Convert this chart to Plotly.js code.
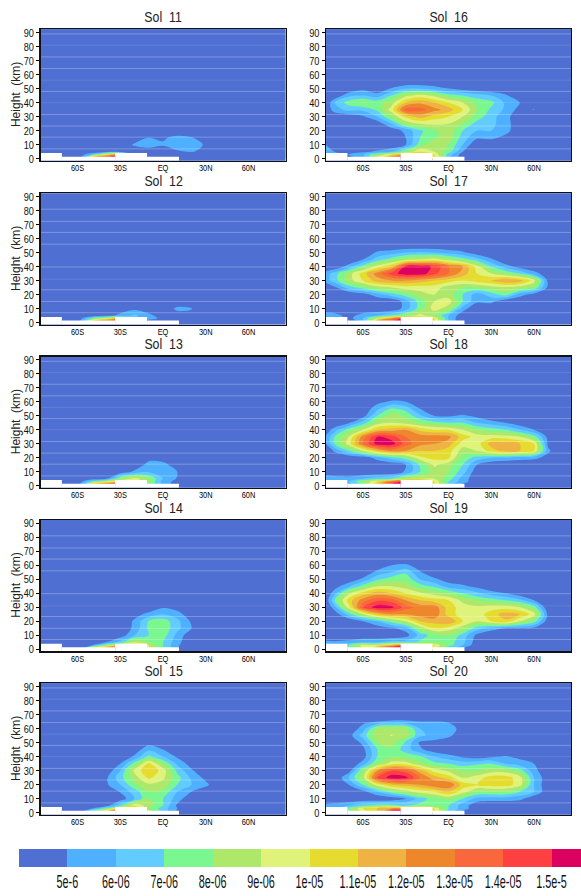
<!DOCTYPE html>
<html><head><meta charset="utf-8">
<script src="https://cdn.plot.ly/plotly-3.0.1.min.js"></script>
<style>html,body{margin:0;padding:0;background:#fff}#c{width:581px;height:896px}</style>
</head><body><div id="c"></div><script>
// Grid (lon, km). Values are in units of 1e-6; rows run bottom to top, missing cells are background.
const lons=[-86,-80,-70,-60,-50,-40,-30,-20,-10,0,10,20,30,40,50,60,70,80,86];
const heights=[0,3,5,10,15,20,25,30,35,40,45,50,55,60,65,70,92.5];
const background=4;
const colorEdges=[4,5,6,7,8,9,10,11,12,13,14,15,16];
const bandColors=['#4f6fd2','#4fb0ff','#62ccff','#7bf78f','#ade86a','#dff27a','#e6dc30','#eeb343','#ee862b','#fb673c','#ff4040','#dc0060'];
const colorTickVals=[5,6,7,8,9,10,11,12,13,14,15];
const colorTickText=['5e-6','6e-06','7e-06','8e-06','9e-06','1e-05','1.1e-05','1.2e-05','1.3e-05','1.4e-05','1.5e-5'];
const lonTickVals=[-60,-30,0,30,60];
const lonTickText=['60S','30S','EQ','30N','60N'];
const heightTicks=[0,10,20,30,40,50,60,70,80,90];
const terrainEdges=[-86,-71,-33.6,-11.2,11.2];
const terrainTop=[4,1.4,4,1.4];
const levelsStrongA=[89,72.6,64.3,48,31.6,23.3,15.4,7];
const levelsFaintA=[81,56,40];
const levelsStrongB=[81,72.3,64.4,56,39.7,23.4,15,7];
const levelsFaintB=[31];

const sol11=[
[4,4,4,4,14,17,18],
[4,4,4,4,6,10,11],
[4,4,4,4,4,4.5,4.5,4,4,4,4.8,5.1,4.6],
[4,4,4,4,4,4,4,5.2,5.8,5.2,5.8,5.8,4.8],
[4,4,4,4,4,4,4,4.2,5,4.8,5.4,5.1,4.3]];
const sol12=[
[4,4,4,4,13,16,18],
[4,4,4,4,7,9,10,6,5.5,4.7],
[4,4,4,4,4,4.4,5.5,6.2,5.4,4.2,4.4,4.7],
[4,4,4,4,4,4,4,4.7,4,4,5.3,5.05]];
const sol13=[
[4,4,4,4,13,16,18,12,8,6],
[4,4,4,4,7,9,10,9.8,8,5.6,4.6],
[4,4,4,4,4.2,4.8,8,9.5,8,6,4.9],
[4,4,4,4,4,4,4.2,5.2,5.8,6,5],
[4,4,4,4,4,4,4,4.2,5.4,5.3,4.5],
[4,4,4,4,4,4,4,4,4.6,4.5]];
const sol14=[
[4,4,4,5,11,15,18,12,9,7,5],
[4,4,4,4,4.8,8,10,10,9,7,5.2],
[4,4,4,4,4,5,6.5,9,8,7,5.4],
[4,4,4,4,4,4,4.3,6,7,7.5,5.7,4.2],
[4,4,4,4,4,4,4,5.3,7.2,7.7,6.3,5],
[4,4,4,4,4,4,4,5.2,7.1,7.6,6.3,4.8],
[4,4,4,4,4,4,4,4.6,5.3,6,5.5,4.2],
[4,4,4,4,4,4,4,4,4.2,4.9,4.5]];
const sol15=[
[4,4,4,4.5,9,13,18,14,10,7,4.5],
[5.2,4,4,4,5,7.5,11,11,8,6.5,5],
[5.2,4,4,4,4,4.5,7,10,8.5,7,4.8],
[4,4,4,4,4,4,4.3,6,8,7,5.5,4.2],
[4,4,4,4,4,4,5.1,6.5,8,7.8,6,5,4.2],
[4,4,4,4,4,4.8,6,7.8,8.8,8.6,7,6,5.3],
[4,4,4,4,4,4.8,6.6,8.5,10.2,9.2,7.4,5.8,4.7],
[4,4,4,4,4,4.2,6,9.3,10.8,9.6,6.7,5.2],
[4,4,4,4,4,4,5,7.4,10.3,8,5.8,4.5],
[4,4,4,4,4,4,4,5.2,7.2,6,4.8],
[4,4,4,4,4,4,4,4.3,5.8,5],
[4,4,4,4,4,4,4,4,4.5]];
const sol16=[
[4,4,4,5.5,10,14,18,14,11,6,4.5],
[6,5.5,5,5.8,8,10,12,12,10,6.5,4.5],
[5.5,5,4.5,4.8,5.2,6,8,10,9,7.5,5],
[5,4.2,4,4,4,4,5,7.5,8.8,8,6],
[4,4,4,4,4,4,5,7,7.8,8.6,6.5,5.2,5.3,4.6],
[4,4,4,4,4,4.3,5.3,6.8,7.8,8.6,7,6,6,5.5],
[4,4,4,4,4.3,6,8.2,9,9.2,9,8,6.6,6.2,5.6],
[4,4,4.3,4.8,6,8,10.3,11.5,10.5,10,9,7.6,6.3,5.5],
[4,5.6,6.3,6.3,7.2,9.5,13.6,13.4,12.4,11.5,10,8,6.8,5.8,4.6,5.05],
[4,6,7.5,8.2,7.6,8.5,11,11.8,11,10,9,7.7,7.3,5.8,5],
[4,4,5.8,6,5.5,7,8.7,9.5,8.8,7.5,7,6.5,6,5.2],
[4,4,4,4.7,4.2,5.1,5.9,5.9,5.5,5,4.5,4.2]];
const sol17=[
[5.5,5,4,5,14,16,16,12,10,6],
[6,5.6,4.6,6,9,12,15,11,10,6],
[5.8,5.5,4.5,5.5,6,7,8,9.5,8,6,4.3],
[4,4,4,4,4,4,5.5,7.5,9.5,8.5,5.5],
[4,4,4,4,4,4,5.5,7.5,9,9.5,7,5.2,5.3],
[4,4,4,4.5,5.6,6.5,7.5,8.5,9,8.5,7,5.5,6.5,7.5,5.5,4.5],
[4,4.8,6.5,7.5,8.5,9,9.5,9.5,9.5,8.5,8,8,8.5,8.8,8.5,7.8,4.7],
[5.5,6.5,8.5,10,11.5,12,12,11.5,11,10.5,10,10.5,11,12,11.5,9.5,4.6],
[5.5,6.5,8.5,10.5,12.5,14.5,15.6,15.6,14.3,13,11.5,10,9,8,7,5.5,4.2],
[4,4,5.5,7.5,9.5,11,15.3,15.6,14.8,13,12,9.5,7,5.5,4.5],
[4,4,4,5,6.5,7.5,8.5,9,9.5,8.5,7.5,6.5,5.2],
[4,4,4,4,5.2,5.5,6,6.2,6,5.6,5.2,4.3]];
const sol18=[
[5,5,5.5,7,12,16,18,13,10,6,4.5],
[6,6,6,8,10,13,15,14,10,7,5.5,4.2],
[6,5.6,5.5,6,6.5,7,8.5,9,9,7.5,5.5,4.3],
[4,4,4,4,4,4,5.2,7,8.6,8,6.5,4.3],
[4,4,4,4,4,4.3,5,7.2,9.2,8.4,7,5,4.2],
[4,4,4,4.2,5.5,6.5,7.5,9.8,10.3,10.2,7.6,6.6,6,5.8,5.5,5.3,4.6],
[4,5.2,7,9,11,12.5,12,11,11,10.5,8.5,9,10.5,11.5,11,10,5.2,4],
[5,7,9.5,13,15.5,15.5,13.5,12.3,12,11.5,9.5,9.5,11.5,11.5,11,10,4.7,4],
[5.2,7,9,12.5,15,14.5,13,12.5,12.6,12.3,10.5,9.6,9.5,9.5,9,7.5,4.6],
[4.3,5.5,7.5,9,11,11.5,12,10.7,10,10,9,8,7.5,7,6,5],
[4,4,4.8,6.5,8.5,9,8.5,8,7.5,7,7,6,5.5,5,4.3],
[4,4,4,4.5,7,8.5,7.8,6.2,5,4.8,5.2,4.7],
[4,4,4,4,5.8,7.2,6.6,5,4],
[4,4,4,4,4.6,5.2,5,4.2]];
const sol19=[
[4.5,5,7,9,14,18,18,13,9,6,4.5],
[5.5,5.5,7,9.5,9,11,13,11,10,7.5,6,4.3],
[5.3,5.2,5.4,6,6,6.5,6.5,7.2,8,7.5,6.3,4.4],
[4,4,4,4,4,4,4.5,6.4,7.5,8,6.6,4.7],
[4,4,4,4,4.3,4.8,5.5,8.3,10,9.5,8.5,6.5,5.5,4.9,4.9,4.7],
[4,4,4,5,6,7.5,9,11,11.5,12,10,9,10,10.8,9,7.5,4.3],
[4,4.3,6.5,8.8,11,12,12,12.5,12.8,10.5,9.5,9.5,10.5,11.5,11,9.5,4.6],
[4,5.5,9.5,14,15.6,15.3,13.5,12.6,12.6,10.5,9.5,9.2,9.5,9.5,9,7.5,4],
[4.3,7,10.5,12.5,13.8,13.5,12,11,10.5,10,8.7,8,7.5,7,6.3,5],
[4,5.6,8.8,10.5,11.5,11,10,9.2,8.5,8,7,6.2,5.5,5,4.3],
[4,4.5,5.8,7.5,9,9,8.5,7.5,6.8,5.5,5.2,4.7],
[4,4,4.2,5.3,6.8,7.6,7.7,6,5.2,4.5,4.3],
[4,4,4,4,5.4,6,6.8,5.1,4.2],
[4,4,4,4,4,5,5.2,4.5]];
const sol20=[
[4.5,4.5,7,9,11,18,18,13,10,6,4.4],
[5.5,5.5,7.5,10,11,12,12,13,10,7,5.5,4.3],
[5.3,5.5,6,7,7.5,7.5,7,7.3,7.6,7,5.5,4.3],
[4,4,4,4,4,4.2,5,6.5,7.5,8.2,7,5.6,5.5,5.5,5.3,4.2],
[4,4,4,4.6,6,7.5,8.5,9.5,10,11,9.5,8,8,8,7,6,4.2],
[4,4,5,7,9.5,11,11.5,12,12.8,13,10.5,10,10.5,10.5,9.5,6,4.1],
[4,4,6,8.5,14,15.6,15.3,13,11.5,10.5,9,9.5,10.5,10.5,9.5,6,4.2],
[4,4,4.5,8,12,14,13.5,11.5,9.6,8.8,8,8,8.5,8.5,7.5,5.4],
[4,4,4,5.5,8,9.5,9.5,8.3,7.3,7,6.5,6.8,7,6,5.5,5],
[4,4,4,4.5,7,7.8,7.6,7.2,6,5.4,4.8,4.4,4.8,5.1,4.7],
[4,4,4,4.7,7,7.8,6.5,5.2,4.4],
[4,4,4,5.3,8,8.4,6.8,4.8,4.6,4.4],
[4,4,4.5,6.5,8.6,9.05,8.5,6.2,5.7,5.2,4.4],
[4,4,4,5.5,8.2,8.7,8.2,6,5.8,5.5,4.6],
[4,4,4,4.7,5,5.2,5.2,5,5,4.9,4.3]];

const panels=[
 {name:'Sol\u00a0\u00a011',rows:sol11,col:0,row:0,levels:'A'},
 {name:'Sol\u00a0\u00a012',rows:sol12,col:0,row:1,levels:'B'},
 {name:'Sol\u00a0\u00a013',rows:sol13,col:0,row:2,levels:'A'},
 {name:'Sol\u00a0\u00a014',rows:sol14,col:0,row:3,levels:'B'},
 {name:'Sol\u00a0\u00a015',rows:sol15,col:0,row:4,levels:'A'},
 {name:'Sol\u00a0\u00a016',rows:sol16,col:1,row:0,levels:'A'},
 {name:'Sol\u00a0\u00a017',rows:sol17,col:1,row:1,levels:'B'},
 {name:'Sol\u00a0\u00a018',rows:sol18,col:1,row:2,levels:'A'},
 {name:'Sol\u00a0\u00a019',rows:sol19,col:1,row:3,levels:'B'},
 {name:'Sol\u00a0\u00a020',rows:sol20,col:1,row:4,levels:'A'}];

const W=581,H=896;
const colX=[[40.5,285.5],[326,571]];
const rowY=[[29.3,160.8],[193.4,324.6],[356.7,487.8],[520,651.4],[683.3,814.8]];
const scale=[];
bandColors.forEach((c,i)=>{scale.push([i/12,c]);scale.push([(i+1)/12,c]);});
const sans='"Liberation Sans",sans-serif';
const layout={width:W,height:H,margin:{l:0,r:0,t:0,b:0},paper_bgcolor:'#fff',plot_bgcolor:bandColors[0],
  showlegend:false,barmode:'overlay',annotations:[]};
const traces=[];
function hLines(levels,color,xa,ya){
  const xs=[],ys=[];
  levels.forEach(v=>{xs.push(-86,86,null);ys.push(v,v,null);});
  return {type:'scatter',mode:'lines',x:xs,y:ys,xaxis:xa,yaxis:ya,line:{color:color,width:1},hoverinfo:'skip'};
}
panels.forEach((p,i)=>{
  const n=i+1,xa='x'+(n===1?'':n),ya='y'+(n===1?'':n);
  const z=heights.map((h,r)=>lons.map((l,c)=>{const row=p.rows[r];return row&&row[c]!==undefined?row[c]:background;}));
  traces.push({type:'contour',x:lons,y:heights,z:z,xaxis:xa,yaxis:ya,zmin:4,zmax:16,colorscale:scale,showscale:false,
    autocontour:false,contours:{start:5,end:15,size:1,coloring:'fill',showlines:false},line:{width:0,smoothing:1},hoverinfo:'skip'});
  traces.push({type:'bar',x:terrainTop.map((t,k)=>(terrainEdges[k]+terrainEdges[k+1])/2),
    width:terrainTop.map((t,k)=>terrainEdges[k+1]-terrainEdges[k]),y:terrainTop.map(t=>t+1.5),base:-1.5,
    xaxis:xa,yaxis:ya,marker:{color:'#fff',line:{width:0}},hoverinfo:'skip'});
  traces.push(hLines(p.levels==='A'?levelsStrongA:levelsStrongB,'rgba(255,255,255,0.27)',xa,ya));
  traces.push(hLines(p.levels==='A'?levelsFaintA:levelsFaintB,'rgba(255,255,255,0.1)',xa,ya));
  const xr=colX[p.col],yr=rowY[p.row];
  layout['xaxis'+(n===1?'':n)]={domain:[xr[0]/W,xr[1]/W],range:[-86,86],anchor:ya,tickmode:'array',tickvals:lonTickVals,ticktext:lonTickText,tickangle:0,
    ticks:'',showgrid:false,zeroline:false,showline:true,mirror:true,linecolor:'#111',linewidth:1.3,
    tickfont:{family:sans,size:9.5,color:'#000'}};
  layout['yaxis'+(n===1?'':n)]={domain:[1-yr[1]/H,1-yr[0]/H],range:[-1.5,92.3],anchor:xa,tickmode:'array',tickvals:heightTicks,tickangle:0,
    ticks:'outside',ticklen:3,tickwidth:1,tickcolor:'#000',showgrid:false,zeroline:false,showline:true,mirror:true,linecolor:'#111',linewidth:1.3,
    tickfont:{family:sans,size:11.5,color:'#111'}};
  if(p.col===0) layout.annotations.push({text:'Height\u00a0\u00a0(km)',xref:'paper',yref:'paper',x:16/W,y:1-(yr[0]+yr[1])/2/H,xanchor:'center',yanchor:'middle',textangle:-90,showarrow:false,
    font:{family:sans,size:12,color:'#222'}});
  layout.annotations.push({text:p.name,xref:'paper',yref:'paper',x:(xr[0]+xr[1])/2/W,y:1-(yr[0]-12.5)/H,xanchor:'center',yanchor:'middle',showarrow:false,
    font:{family:sans,size:14.5,color:'#222'}});
});
// colour key
traces.push({type:'heatmap',x:colorEdges,y:[0,1],z:[colorEdges.slice(0,-1).map(v=>v+0.5)],xaxis:'x11',yaxis:'y11',zmin:4,zmax:16,colorscale:scale,showscale:false,hoverinfo:'skip'});
layout.xaxis11={domain:[19/W,1],range:[4,15.61],anchor:'y11',tickmode:'array',tickvals:colorTickVals,ticktext:colorTickText,tickangle:0,ticks:'',showgrid:false,zeroline:false,showline:false,
  ticklabelstandoff:1,tickfont:{family:sans,size:19,color:'#111'}};
layout.yaxis11={domain:[1-867/H,1-849/H],range:[0,1],anchor:'x11',showticklabels:false,ticks:'',showgrid:false,zeroline:false,showline:false};

// The source font is tall and condensed: squeeze the real text horizontally around its anchor.
function squeeze(el,sx,frac,dy){
  const b=el.getBBox(),cx=b.x+b.width*frac,cy=b.y+b.height/2,old=el.getAttribute('transform')||'';
  el.setAttribute('transform',old+' translate(0,'+(dy||0)+') translate('+cx+','+cy+') scale('+sx+',1) translate('+(-cx)+','+(-cy)+')');
}
Plotly.newPlot('c',traces,layout,{displayModeBar:false,staticPlot:true}).then(gd=>{
  gd.querySelectorAll('.xaxislayer-above text').forEach(t=>{
    if(/e-/.test(t.textContent)) squeeze(t,0.57,0.5,0); else squeeze(t,0.78,0.5,-2);
  });
  gd.querySelectorAll('.yaxislayer-above text').forEach(t=>squeeze(t,0.8,1,0));
  gd.querySelectorAll('.annotation-text').forEach(t=>{ if(/Sol/.test(t.textContent)) squeeze(t,0.85,0.5,0); });
});
</script></body></html>
